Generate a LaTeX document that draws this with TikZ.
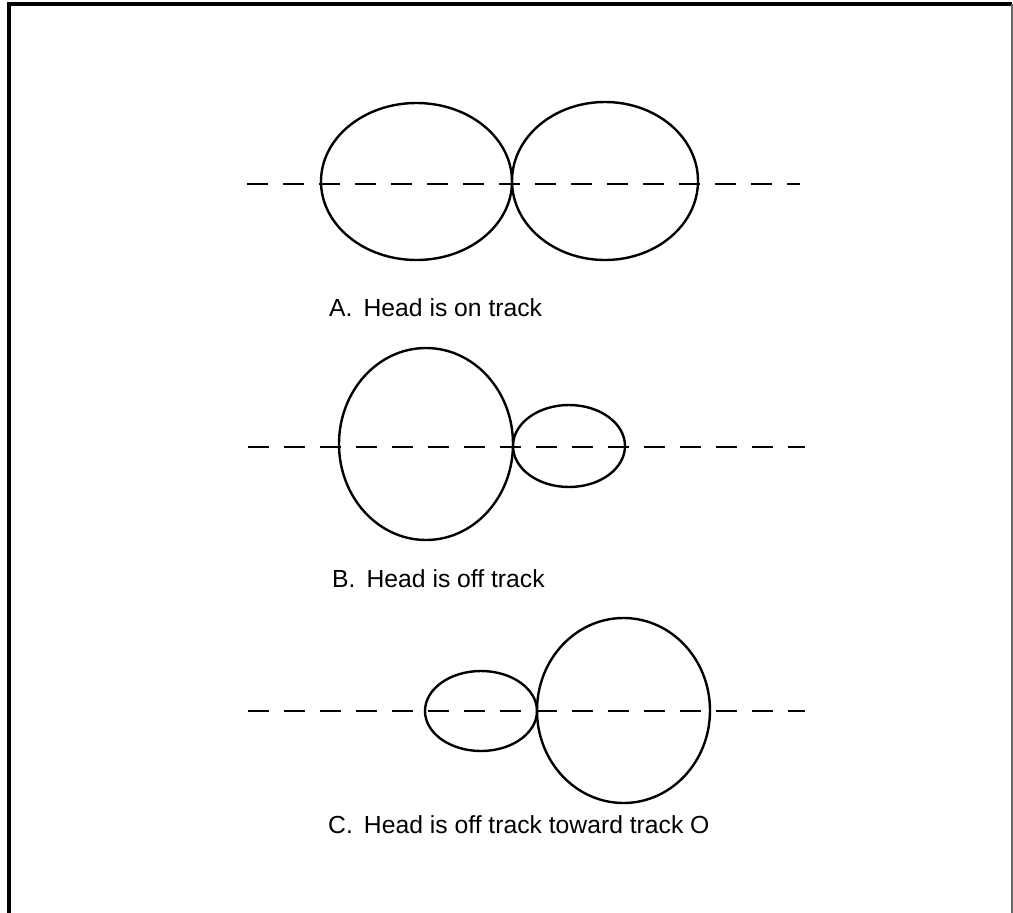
\documentclass[tikz,border=0pt]{standalone}
\usepackage{fontspec}
\setmainfont{Liberation Sans}
\usetikzlibrary{shapes.geometric}
\tikzset{
  lobe/.style={draw, ellipse, line width=2.4pt, inner sep=0pt, outer sep=0pt},
  track/.style={line width=2pt, dash pattern=on 21pt off 15pt},
  caption/.style={anchor=base west, inner sep=0pt, font=\fontsize{24.7}{29}\selectfont},
  frame/.style={line width=4pt}
}
\begin{document}
\begin{tikzpicture}[x=1pt,y=-1pt]
\useasboundingbox (0,0) rectangle (1013,913);
% frame
\draw[frame] (9,913) -- (9,4) -- (1012,4);
\draw[line width=2pt, black!60] (1012,4) -- (1012,913);
% A
\coordinate (aL) at (247,184);
\coordinate (aR) at (800,184);
\draw[track] (aL) -- (aR);
\node[lobe, minimum width=191pt, minimum height=157pt] (a1) at (416.5,181.5) {};
\node[lobe, minimum width=186pt, minimum height=158pt] (a2) at (605,181) {};
\node[caption] (ta) at (329,316) {A.\hspace{0.45em}Head is on track};
% B
\coordinate (bL) at (248,447);
\coordinate (bR) at (805,447);
\draw[track] (bL) -- (bR);
\node[lobe, minimum width=174pt, minimum height=192pt] (b1) at (426,444) {};
\node[lobe, minimum width=112pt, minimum height=82pt] (b2) at (569,446) {};
\node[caption] (tb) at (332,587) {B.\hspace{0.45em}Head is off track};
% C
\coordinate (cL) at (248,711);
\coordinate (cR) at (805,711);
\draw[track] (cL) -- (cR);
\node[lobe, minimum width=112pt, minimum height=80pt] (c1) at (481,711) {};
\node[lobe, minimum width=173pt, minimum height=185pt] (c2) at (623.5,710.5) {};
\node[caption] (tc) at (328,833) {C.\hspace{0.45em}Head is off track toward track O};
\end{tikzpicture}
\end{document}
